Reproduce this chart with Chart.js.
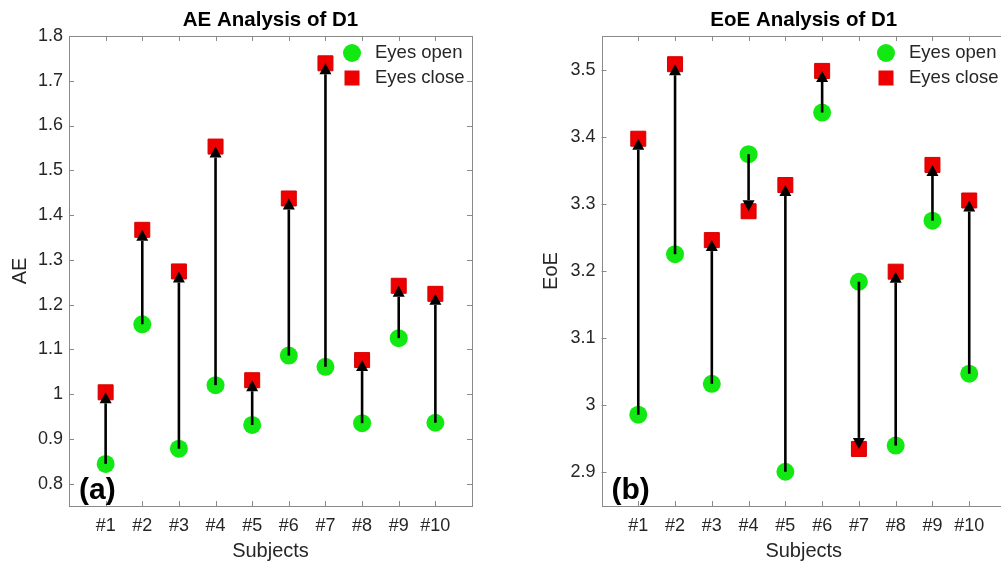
<!DOCTYPE html>
<html>
<head>
<meta charset="utf-8">
<script src="https://cdn.jsdelivr.net/npm/chart.js@4.4.1/dist/chart.umd.min.js"></script>
<style>
  html, body { margin: 0; padding: 0; background: #fff; overflow: hidden; width: 1001px; height: 566px; }
  .panel { position: absolute; top: 0; height: 566px; }
  #left { left: 0; width: 500px; }
  #right { left: 500px; width: 530px; }
</style>
</head>
<body>
<div class="panel" id="left"><canvas id="aeChart" width="500" height="566"></canvas></div>
<div class="panel" id="right"><canvas id="eoeChart" width="530" height="566"></canvas></div>
<script>
// --- data ---
const subjects = ['#1', '#2', '#3', '#4', '#5', '#6', '#7', '#8', '#9', '#10'];
const aeOpen  = [0.844, 1.156, 0.878, 1.020, 0.931, 1.086, 1.061, 0.935, 1.125, 0.936];
const aeClose = [1.004, 1.367, 1.274, 1.553, 1.031, 1.437, 1.739, 1.076, 1.242, 1.224];
const eoeOpen  = [2.986, 3.225, 3.032, 3.374, 2.901, 3.436, 3.184, 2.940, 3.275, 3.047];
const eoeClose = [3.397, 3.508, 3.246, 3.289, 3.328, 3.498, 2.935, 3.199, 3.358, 3.305];
const aeTicks  = [0.8, 0.9, 1.0, 1.1, 1.2, 1.3, 1.4, 1.5, 1.6, 1.7, 1.8];
const eoeTicks = [2.9, 3.0, 3.1, 3.2, 3.3, 3.4, 3.5];

const FONT = '"Liberation Sans", Arial, Helvetica, sans-serif';
const TEXT = '#262626';
const AXIS = '#8a8a8a';
const GREEN = '#12e812';
const RED = '#ee0000';

// box round the plot with inward ticks on all four sides (MATLAB style)
const boxPlugin = {
    id: 'box',
    beforeDatasetsDraw(chart) {
        const {ctx, chartArea: a, scales} = chart;
        ctx.save();
        ctx.strokeStyle = AXIS;
        ctx.lineWidth = 1;
        ctx.strokeRect(Math.round(a.left) + 0.5, Math.round(a.top) + 0.5, Math.round(a.right - a.left), Math.round(a.bottom - a.top));
        ctx.beginPath();
        scales.x.ticks.forEach(t => {
            const x = Math.round(scales.x.getPixelForValue(t.value)) + 0.5;
            ctx.moveTo(x, a.bottom); ctx.lineTo(x, a.bottom - 5);
            ctx.moveTo(x, a.top); ctx.lineTo(x, a.top + 5);
        });
        scales.y.ticks.forEach(t => {
            const y = Math.round(scales.y.getPixelForValue(t.value)) + 0.5;
            ctx.moveTo(a.left, y); ctx.lineTo(a.left + 5, y);
            ctx.moveTo(a.right, y); ctx.lineTo(a.right - 5, y);
        });
        ctx.stroke();
        ctx.restore();
    }
};

// arrows from eyes open to eyes close, plus legend and panel letter
const arrowPlugin = {
    id: 'arrows',
    afterDatasetsDraw(chart, args, opts) {
        const {ctx, scales} = chart;
        const open = chart.data.datasets[0].data;
        const close = chart.data.datasets[1].data;
        ctx.save();
        ctx.strokeStyle = '#000';
        ctx.fillStyle = '#000';
        ctx.lineWidth = 2.6;
        open.forEach((p, i) => {
            const x = scales.x.getPixelForValue(p.x);
            const y0 = scales.y.getPixelForValue(p.y);
            const y1 = scales.y.getPixelForValue(close[i].y);
            const dir = y1 < y0 ? 1 : -1;   // 1 = arrow points up
            const head = 11;
            ctx.beginPath();
            ctx.moveTo(x, y0);
            ctx.lineTo(x, y1 + dir * head);
            ctx.stroke();
            ctx.beginPath();
            ctx.moveTo(x, y1);
            ctx.lineTo(x - 6, y1 + dir * head);
            ctx.lineTo(x + 6, y1 + dir * head);
            ctx.closePath();
            ctx.fill();
        });
        ctx.restore();
    },
    afterDraw(chart, args, opts) {
        const {ctx, chartArea: a} = chart;
        ctx.save();
        // legend
        const mx = a.right - 120;
        ctx.fillStyle = GREEN;
        ctx.beginPath();
        ctx.arc(mx, a.top + 17, 9, 0, Math.PI * 2);
        ctx.fill();
        ctx.fillStyle = RED;
        ctx.fillRect(mx - 7.5, a.top + 42 - 7.5, 15, 15);
        ctx.fillStyle = TEXT;
        ctx.font = '18.5px ' + FONT;
        ctx.textBaseline = 'middle';
        ctx.textAlign = 'left';
        ctx.fillText('Eyes open', mx + 23, a.top + 17);
        ctx.fillText('Eyes close', mx + 23, a.top + 42);
        // panel letter
        ctx.fillStyle = '#000';
        ctx.font = 'bold 30px ' + FONT;
        ctx.textBaseline = 'alphabetic';
        ctx.fillText(opts.letter, a.left + 10, a.bottom - 7);
        ctx.restore();
    }
};

function makeChart(id, title, yTitle, openVals, closeVals, yTicks, yMin, yMax, yWidth, yTitlePad, padRight, letter) {
    const ctx = document.getElementById(id).getContext('2d');
    return new Chart(ctx, {
        type: 'scatter',
        data: {
            datasets: [{
                label: 'Eyes open',
                data: openVals.map((v, i) => ({x: i + 1, y: v})),
                pointStyle: 'circle',
                pointRadius: 9,
                pointHoverRadius: 9,
                backgroundColor: GREEN,
                borderWidth: 0
            }, {
                label: 'Eyes close',
                data: closeVals.map((v, i) => ({x: i + 1, y: v})),
                pointStyle: 'rect',
                pointRadius: 10.6,
                pointHoverRadius: 10.6,
                backgroundColor: RED,
                borderColor: '#d40000',
                borderWidth: 1
            }]
        },
        options: {
            responsive: false,
            animation: false,
            devicePixelRatio: 1,
            layout: { padding: { left: 0, right: padRight, top: 0, bottom: 0 } },
            plugins: {
                legend: { display: false },
                tooltip: { enabled: false },
                title: {
                    display: true,
                    text: title,
                    fullSize: false,
                    color: '#000',
                    font: { family: FONT, size: 20.5, weight: 'bold', lineHeight: 1.2 },
                    padding: { top: 8.5, bottom: 2.9 }
                },
                arrows: { letter: letter }
            },
            scales: {
                x: {
                    type: 'linear',
                    min: 0,
                    max: subjects.length + 1,
                    grid: { display: false, drawTicks: false },
                    border: { display: false },
                    afterBuildTicks: axis => { axis.ticks = subjects.map((s, i) => ({value: i + 1})); },
                    afterFit: axis => { axis.height = 60; },
                    ticks: {
                        color: TEXT,
                        padding: 9,
                        maxRotation: 0,
                        autoSkip: false,
                        font: { family: FONT, size: 18 },
                        callback: v => subjects[v - 1]
                    },
                    title: {
                        display: true,
                        text: 'Subjects',
                        color: TEXT,
                        font: { family: FONT, size: 20, lineHeight: 1.2 },
                        padding: { top: 0, bottom: 2.3 }
                    }
                },
                y: {
                    min: yMin,
                    max: yMax,
                    grid: { display: false, drawTicks: false },
                    border: { display: false },
                    afterBuildTicks: axis => { axis.ticks = yTicks.map(v => ({value: v})); },
                    afterFit: axis => { axis.width = yWidth; },
                    ticks: {
                        color: TEXT,
                        padding: 6,
                        font: { family: FONT, size: 18 },
                        callback: v => String(+v.toFixed(2))
                    },
                    title: {
                        display: true,
                        text: yTitle,
                        color: TEXT,
                        font: { family: FONT, size: 20, lineHeight: 1.2 },
                        padding: { top: yTitlePad, bottom: 0 }
                    }
                }
            }
        },
        plugins: [boxPlugin, arrowPlugin]
    });
}

makeChart('aeChart', 'AE Analysis of D1', 'AE', aeOpen, aeClose, aeTicks, 0.75, 1.8, 69, 8, 28, '(a)');
makeChart('eoeChart', 'EoE Analysis of D1', 'EoE', eoeOpen, eoeClose, eoeTicks, 2.85, 3.55, 101.5, 39.7, 24, '(b)');
</script>
</body>
</html>
